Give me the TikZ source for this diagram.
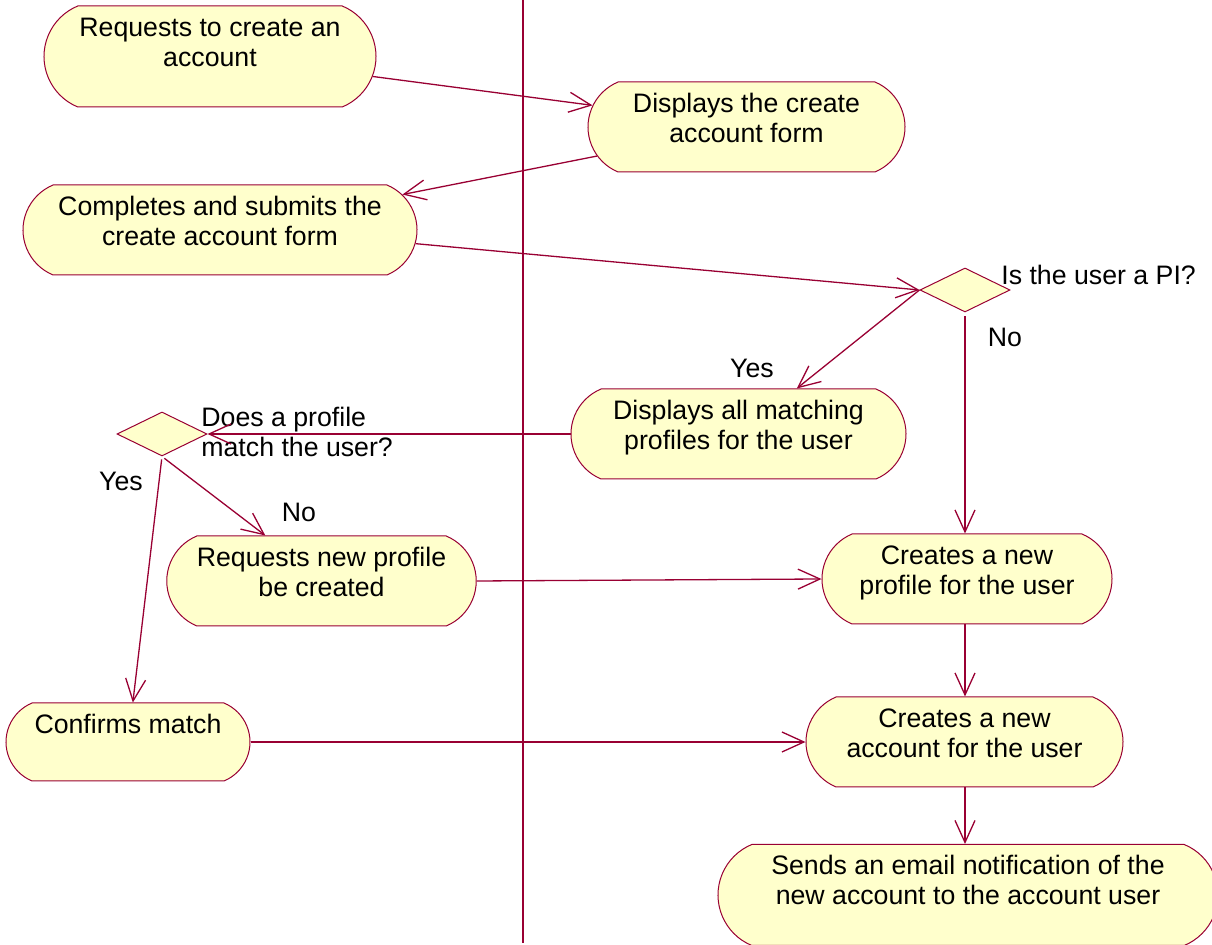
\documentclass[tikz,border=0pt]{standalone}
\usepackage{fontspec}
\setmainfont{Liberation Sans}
\usepackage{tikz}
\usetikzlibrary{shapes.geometric}
\usetikzlibrary{shapes.misc}
\usetikzlibrary{arrows.meta}
\definecolor{roseline}{RGB}{153,0,51}
\definecolor{rosefill}{RGB}{255,255,204}

\begin{document}
\begin{tikzpicture}[x=0.5pt, y=-0.5pt,
    every node/.style={font=\fontsize{13.35}{15}\selectfont},
    activity/.style={rounded rectangle, rounded rectangle arc length=135, draw=roseline, fill=rosefill, line width=0.5pt, align=center, inner xsep=0pt, inner ysep=0pt, text height=30.25pt, text depth=14.75pt, minimum width=#1},
    decision/.style={diamond, draw=roseline, fill=rosefill, line width=0.5pt, inner sep=0pt, minimum width=45pt, minimum height=22pt},
    guard/.style={inner sep=0pt},
    flow/.style={draw=roseline, line width=0.65pt, -{Straight Barb[length=11pt,width=10pt]}}]
                \useasboundingbox (0,0) rectangle (1212,945);

                % Swimlane divider
                \coordinate (lanetop) at (523,0);
                \coordinate (lanebot) at (523,943);
                \draw[roseline, line width=0.6pt] (lanetop) -- (lanebot);

                % Activities
                \node[activity=166pt, text depth=20.25pt] (reqacct) at (210,56.5) {Requests to create an\\account};
                \node[activity=158.5pt] (dispform) at (746.5,127) {Displays the create\\account form};
                \node[activity=197pt] (submit) at (220,230) {Completes and submits the\\create account form};
                \node[activity=167.5pt] (dispmatch) at (738.5,434) {Displays all matching\\profiles for the user};
                \node[activity=150.5pt] (reqprof) at (321.5,581) {Requests new profile\\be created};
                \node[activity=145pt] (newprof) at (967,579) {Creates a new\\profile for the user};
                \node[activity=122pt, text height=15.25pt, text depth=23.75pt] (confirm) at (128,742) {Confirms match};
                \node[activity=158.5pt] (newacct) at (964.5,742) {Creates a new\\account for the user};
                \node[activity=250pt, text depth=20.25pt] (email) at (968,895) {Sends an email notification of the\\new account to the account user};

                % Decisions
                \node[decision] (ispi) at (965,290) {};
                \node[decision] (match) at (162,434) {};

                % Guards and questions
                \node[guard, anchor=west] (ispitext) at (1001,275) {Is the user a PI?};
                \node[guard] (ispino) at (1005,337) {No};
                \node[guard] (ispiyes) at (752,368) {Yes};
                \node[guard, anchor=west, align=left] (matchtext) at (201,432) {Does a profile\\match the user?};
                \node[guard] (matchyes) at (121,481) {Yes};
                \node[guard] (matchno) at (299,512) {No};

                % Transitions
                \draw[flow] (reqacct.-7) -- (dispform.172);
                \draw[flow] (dispform.-169) -- (submit.11);
                \draw[flow] (submit.-4) -- (ispi.west);
                \draw[flow] (ispi.west) -- (dispmatch.38);
                \draw[flow, shorten <=2pt] (ispi.south) -- (ispi.south |- newprof.north);
                \draw[flow] (dispmatch.west) -- (match.east);
                \draw[flow, shorten <=1.5pt] (match.south) -- (reqprof.141);
                \draw[flow, shorten <=1.5pt] (match.south) -- (confirm.83);
                \draw[flow] (reqprof.east) -- (newprof.west);
                \draw[flow] (confirm.east) -- (newacct.west);
                \draw[flow] (ispi.south |- newprof.south) -- (ispi.south |- newacct.north);
                \draw[flow] (ispi.south |- newacct.south) -- (ispi.south |- email.north);
            \end{tikzpicture}
\end{document}
